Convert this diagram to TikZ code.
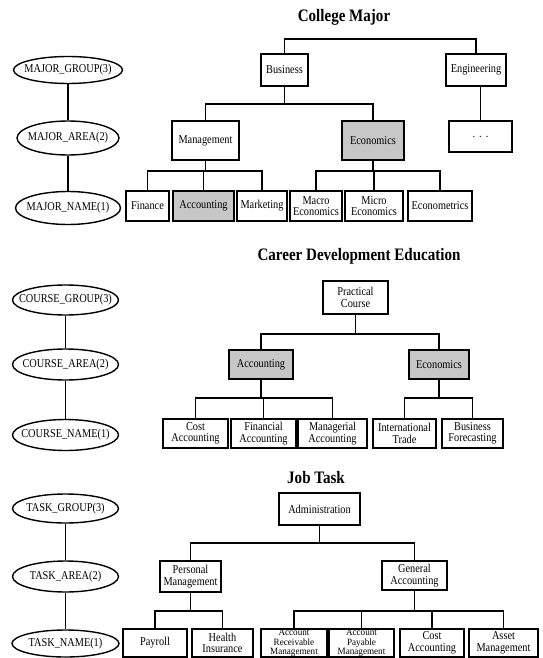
\documentclass[tikz,border=0pt]{standalone}
\usepackage{fontspec}
\setmainfont{Liberation Serif}
\newfontfamily\cond[FakeStretch=0.86]{Liberation Serif}
\newfontfamily\condb[FakeStretch=0.95]{Liberation Serif}
\usetikzlibrary{shapes.geometric}
\begin{document}
\begin{tikzpicture}[x=1pt,y=-1pt,
  box/.style 2 args={draw, line width=1.5pt, rectangle, inner sep=0pt, align=center,
    minimum width=#1, minimum height=#2, font=\cond\fontsize{12}{11.5}\selectfont},
  tight/.style={font=\condb\fontsize{9.6}{9.3}\selectfont},
  shaded/.style={fill=black!22},
  ell/.style 2 args={draw, ellipse, line width=1.4pt, inner sep=0pt,
    minimum width=#1, minimum height=#2, font=\cond\fontsize{12}{12}\selectfont},
  ttl/.style={font=\cond\bfseries\fontsize{17.5}{20}\selectfont, inner sep=0pt},
  conn/.style={line width=1.4pt},
]
\useasboundingbox (0,0) rectangle (542,658);

% ---------- Section 1: College Major ----------
\node[ttl] (t1) at (344,17) {College Major};
\node[box={47pt}{32pt}] (bus) at (284.5,70) {Business};
\node[box={60pt}{32pt}] (eng) at (476,70) {Engineering};
\node[box={63pt}{31pt}] (dots) at (480.5,136.5) {.\,\,.\,\,.};
\node[box={67pt}{39pt}] (mgmt) at (205.5,140.5) {Management};
\node[box={62pt}{39pt},shaded] (econ) at (373,140.5) {Economics};
\node[box={43pt}{30pt}] (fin) at (147.5,206) {Finance};
\node[box={61pt}{30pt},shaded] (acc) at (203.5,206) {Accounting};
\node[box={50pt}{30pt}] (mkt) at (262,206) {Marketing};
\node[box={52pt}{30pt}] (macro) at (316,206) {Macro\\Economics};
\node[box={58pt}{30pt}] (micro) at (374,206) {Micro\\Economics};
\node[box={64pt}{30pt}] (ectr) at (440,206) {Econometrics};

\node[ell={109pt}{27pt}] (eg1) at (68,70) {\makebox[0pt]{MAJOR\_GROUP(3)}};
\node[ell={102pt}{34pt}] (ea1) at (68,138) {\makebox[0pt]{MAJOR\_AREA(2)}};
\node[ell={105pt}{33pt}] (en1) at (68,208) {\makebox[0pt]{MAJOR\_NAME(1)}};
\draw[conn] (eg1.south) -- (ea1.north);
\draw[conn] (ea1.south) -- (en1.north);

\coordinate (b0) at (0,39);
\coordinate (b1) at (0,104);
\coordinate (b2) at (0,171);
\draw[conn] (bus.north) |- (eng.north |- b0) -- (eng.north);
\draw[conn] (bus.south) |- (mgmt.north |- b1) -- (mgmt.north);
\draw[conn] (bus.south) |- (econ.north |- b1) -- (econ.north);
\draw[conn] (dots.north) -- (dots.north |- eng.south);
\foreach \c in {fin,acc,mkt}
  \draw[conn] (mgmt.south) |- (\c.north |- b2) -- (\c.north);
\foreach \c in {macro,micro,ectr}
  \draw[conn] (econ.south) |- (\c.north |- b2) -- (\c.north);

% ---------- Section 2: Career Development Education ----------
\node[ttl] (t2) at (359,256) {Career Development Education};
\node[box={65pt}{33pt}] (pc) at (355.5,297.5) {Practical\\Course};
\node[box={64pt}{29pt},shaded] (acc2) at (261,364.5) {Accounting};
\node[box={60pt}{29pt},shaded] (eco2) at (439,364.5) {Economics};
\node[box={65pt}{29pt}] (ca) at (195.5,433.5) {Cost\\Accounting};
\node[box={65pt}{29pt}] (fa) at (263.5,433.5) {Financial\\Accounting};
\node[box={69pt}{29pt}] (ma) at (332.5,433.5) {Managerial\\Accounting};
\node[box={63pt}{29pt}] (it) at (404.5,433.5) {International\\Trade};
\node[box={61pt}{29pt}] (bf) at (472.5,433.5) {Business\\Forecasting};

\node[ell={106pt}{30pt}] (cg) at (65.5,300) {\makebox[0pt]{COURSE\_GROUP(3)}};
\node[ell={106pt}{31pt}] (car) at (65.5,364.5) {\makebox[0pt]{COURSE\_AREA(2)}};
\node[ell={106pt}{31pt}] (cn) at (65.5,435) {\makebox[0pt]{COURSE\_NAME(1)}};
\draw[conn] (cg.south) -- (car.north);
\draw[conn] (car.south) -- (cn.north);

\coordinate (b3) at (0,334);
\coordinate (b4) at (0,398);
\foreach \c in {acc2,eco2}
  \draw[conn] (pc.south) |- (\c.north |- b3) -- (\c.north);
\foreach \c in {ca,fa,ma}
  \draw[conn] (acc2.south) |- (\c.north |- b4) -- (\c.north);
\foreach \c in {it,bf}
  \draw[conn] (eco2.south) |- (\c.north |- b4) -- (\c.north);

% ---------- Section 3: Job Task ----------
\node[ttl] (t3) at (316,478) {Job Task};
\node[box={81pt}{32pt}] (adm) at (319.5,509) {Administration};
\node[box={61pt}{31pt}] (pm) at (190.5,576.5) {Personal\\Management};
\node[box={65pt}{29pt}] (ga) at (414.5,575.5) {General\\Accounting};
\node[box={64pt}{28pt}] (pay) at (155,643) {Payroll};
\node[box={61pt}{28pt}] (hi) at (222.5,643) {Health\\Insurance};
\node[box={66pt}{28pt},tight] (arm) at (294,643) {Account\\Receivable\\Management};
\node[box={65pt}{28pt},tight] (apm) at (361.5,643) {Account\\Payable\\Management};
\node[box={64pt}{28pt}] (cost3) at (432,643) {Cost\\Accounting};
\node[box={69pt}{28pt}] (am) at (503.5,643) {Asset\\Management};

\node[ell={106pt}{29pt}] (tg) at (65.5,508.5) {\makebox[0pt]{TASK\_GROUP(3)}};
\node[ell={106pt}{31pt}] (tar) at (65.5,576.5) {\makebox[0pt]{TASK\_AREA(2)}};
\node[ell={107pt}{27pt}] (tn) at (65.5,643.5) {\makebox[0pt]{TASK\_NAME(1)}};
\draw[conn] (tg.south) -- (tar.north);
\draw[conn] (tar.south) -- (tn.north);

\coordinate (b5) at (0,543);
\coordinate (b6) at (0,611);
\foreach \c in {pm,ga}
  \draw[conn] (adm.south) |- (\c.north |- b5) -- (\c.north);
\foreach \c in {pay,hi}
  \draw[conn] (pm.south) |- (\c.north |- b6) -- (\c.north);
\foreach \c in {arm,apm,cost3,am}
  \draw[conn] (ga.south) |- (\c.north |- b6) -- (\c.north);
\end{tikzpicture}
\end{document}
